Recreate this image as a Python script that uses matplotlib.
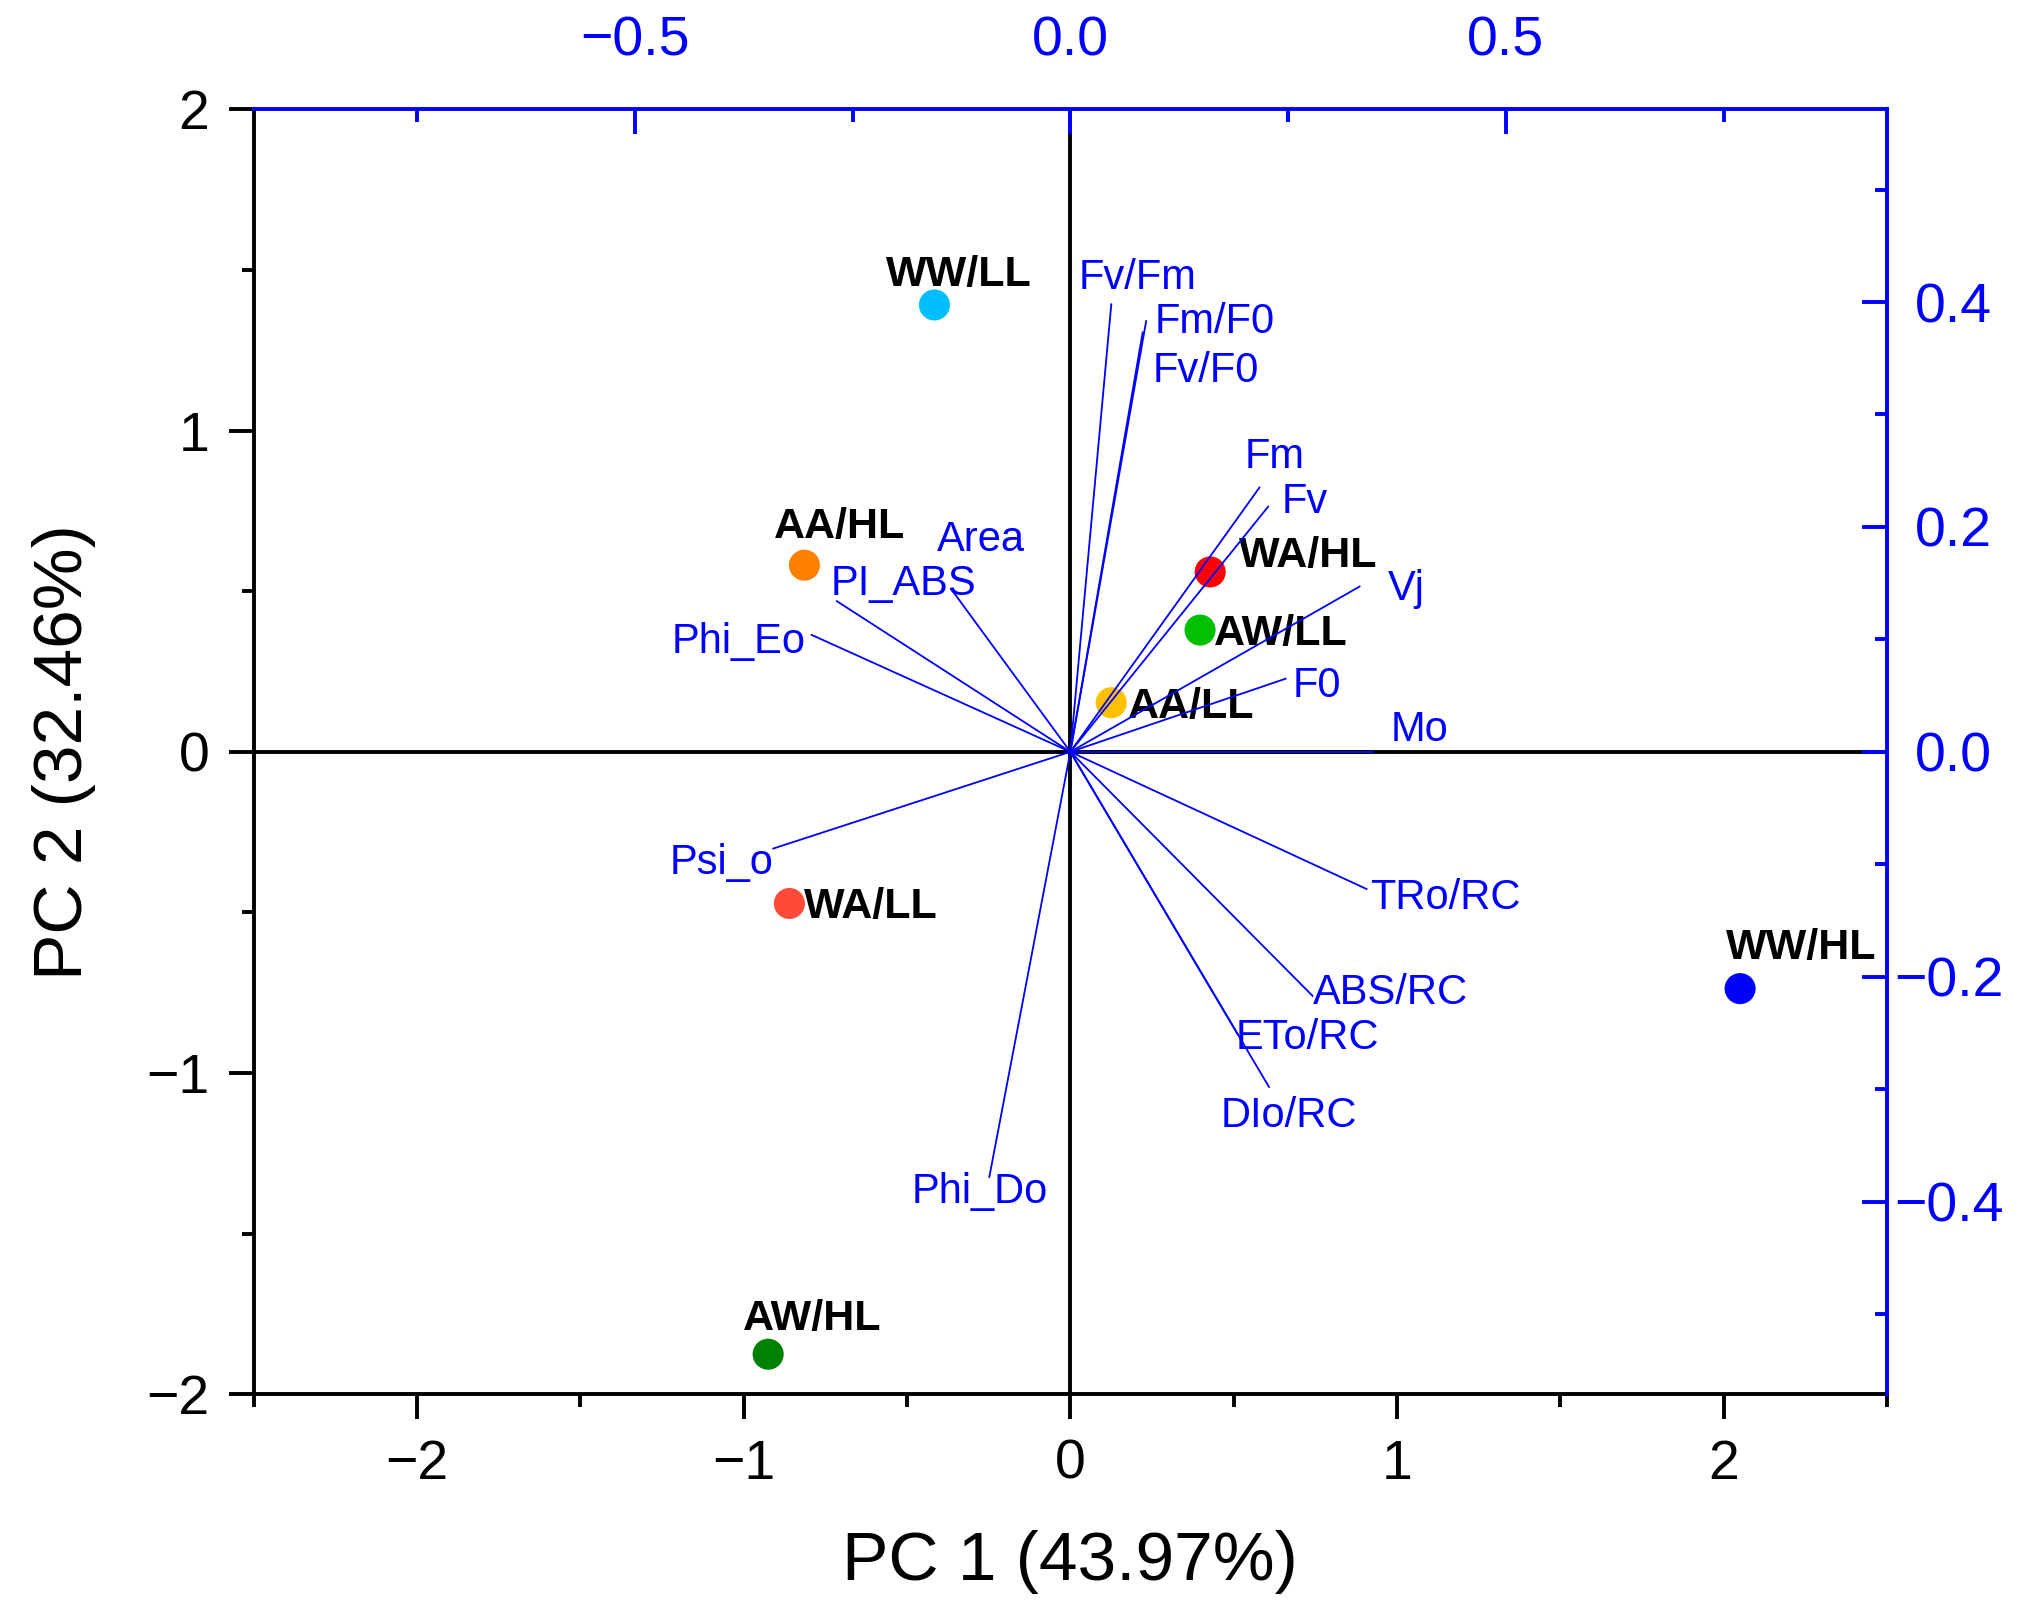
import matplotlib
matplotlib.use("Agg")
import matplotlib.pyplot as plt
import matplotlib.transforms as mtransforms
from matplotlib.ticker import MultipleLocator

plt.rcParams['font.family'] = ['Liberation Sans', 'DejaVu Sans']

# PCA scores (bottom / left axes)
groups = ["WW/LL", "AA/HL", "WA/HL", "AW/LL", "AA/LL", "WA/LL", "AW/HL", "WW/HL"]
pc1 = [-0.416, -0.814, 0.428, 0.397, 0.125, -0.860, -0.925, 2.05]
pc2 = [1.391, 0.581, 0.560, 0.379, 0.153, -0.472, -1.875, -0.737]
grp_colors = ["#00BFFF", "#FF8000", "#FF0000", "#00C000", "#FFC000", "#FF4A3A", "#008000", "#0000FF"]
# label offsets (points) for group names
grp_off = [(-17.3, 6.8), (-10.8, 9.7), (10.4, 1.8), (5.0, -5.4), (6.1, -5.4),
           (5.4, -5.4), (-9.0, 8.6), (-5.0, 10.8)]

# loadings (top / right axes)
params = ["Fv/Fm", "Fm/F0", "Fv/F0", "Fm", "Fv", "Vj", "F0", "Mo", "TRo/RC", "ABS/RC",
          "ETo/RC", "DIo/RC", "Phi_Eo", "PI_ABS", "Area", "Psi_o", "Phi_Do"]
load1 = [0.047, 0.087, 0.083, 0.217, 0.227, 0.332, 0.247, 0.347, 0.340, 0.278,
         0.192, 0.228, -0.297, -0.268, -0.137, -0.341, -0.093]
load2 = [0.398, 0.383, 0.373, 0.235, 0.218, 0.147, 0.065, 0.0, -0.122, -0.217,
         -0.251, -0.298, 0.104, 0.134, 0.145, -0.086, -0.378]
par_off = [(-11.7, 5.4), (2.9, -4.3), (3.6, -18.0), (-5.4, 7.2), (4.7, -2.2), (10.1, -4.7),
           (2.5, -6.5), (6.5, 4.0), (1.4, -7.2), (0.0, -2.9), (-0.7, -5.4), (-17.3, -14.4),
           (-2.0, -6.5), (-2.2, 2.2), (-5.0, 13.7), (0.0, -9.0), (-28.1, -9.4)]
par_ha = ["left"] * 12 + ["right", "left", "left", "right", "left"]

fig = plt.figure(figsize=(10.16, 8.06), dpi=200)
rect = [0.1248, 0.1350, 0.8039, 0.7972]
ax = fig.add_axes(rect)
ax.set_xlim(-2.5, 2.5)
ax.set_ylim(-2, 2)
ax.axhline(0, color="black", lw=1.4, zorder=1)
ax.axvline(0, color="black", lw=1.4, zorder=1)
ax.scatter(pc1, pc2, s=125, c=grp_colors, edgecolors="none", zorder=3)
for i, g in enumerate(groups):
    ax.annotate(g, (pc1[i], pc2[i]), xytext=grp_off[i], textcoords="offset points",
                ha="left", va="baseline", fontsize=15.5, fontweight="bold", color="black", zorder=4)

ax.xaxis.set_major_locator(MultipleLocator(1))
ax.xaxis.set_minor_locator(MultipleLocator(0.5))
ax.yaxis.set_major_locator(MultipleLocator(1))
ax.yaxis.set_minor_locator(MultipleLocator(0.5))
ax.tick_params(which="both", direction="out", width=1.4, labelsize=20, pad=7, colors="black")
ax.tick_params(which="major", length=9)
ax.tick_params(which="minor", length=4.5)
for s in ["left", "bottom"]:
    ax.spines[s].set_linewidth(1.4)
ax.spines["top"].set_visible(False)
ax.spines["right"].set_visible(False)
ax.set_xlabel("PC 1 (43.97%)", fontsize=25, labelpad=14)
ax.set_ylabel("PC 2 (32.46%)", fontsize=25, labelpad=18)

# loadings axes
axl = fig.add_axes(rect, facecolor="none")
axl.set_xlim(-0.9375, 0.9375)
axl.set_ylim(-0.5714, 0.5714)
for i, p in enumerate(params):
    axl.plot([0, load1[i]], [0, load2[i]], color="#0000FF", lw=0.65, zorder=2)
    axl.annotate(p, (load1[i], load2[i]), xytext=par_off[i], textcoords="offset points",
                 ha=par_ha[i], va="baseline", fontsize=15, color="#0000FF")
axl.xaxis.tick_top()
axl.yaxis.tick_right()
axl.xaxis.set_major_locator(MultipleLocator(0.5))
axl.xaxis.set_minor_locator(MultipleLocator(0.25))
axl.yaxis.set_major_locator(MultipleLocator(0.2))
axl.yaxis.set_minor_locator(MultipleLocator(0.1))
axl.tick_params(which="both", direction="in", width=1.4, labelsize=20, colors="#0000FF")
axl.tick_params(which="major", length=9)
axl.tick_params(which="minor", length=4.5)
axl.tick_params(axis="x", pad=15)
axl.tick_params(axis="y", pad=10)
axl.spines["left"].set_visible(False)
axl.spines["bottom"].set_visible(False)
for s in ["top", "right"]:
    axl.spines[s].set_color("#0000FF")
    axl.spines[s].set_linewidth(1.4)

# negative right-axis labels hang their minus sign left, as in the original
fig.canvas.draw()
shift = mtransforms.ScaledTranslation(-7.5 / 72, 0, fig.dpi_scale_trans)
for tick in axl.yaxis.get_major_ticks():
    if tick.get_loc() < -1e-9:
        tick.label2.set_transform(tick.label2.get_transform() + shift)

fig.savefig("out.png", dpi=200)
